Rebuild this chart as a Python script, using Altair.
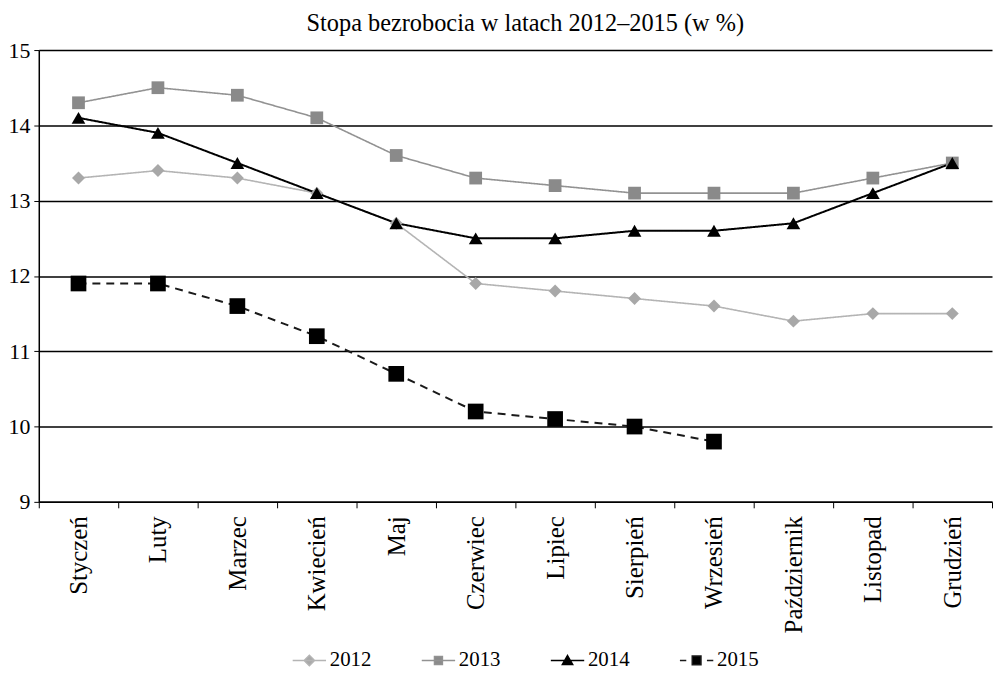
import altair as alt
import pandas as pd

months = ["Styczeń", "Luty", "Marzec", "Kwiecień", "Maj", "Czerwiec", "Lipiec",
          "Sierpień", "Wrzesień", "Październik", "Listopad", "Grudzień"]
years = ["2012", "2013", "2014", "2015"]
v2012 = [13.3, 13.4, 13.3, 13.1, 12.7, 11.9, 11.8, 11.7, 11.6, 11.4, 11.5, 11.5]
v2013 = [14.3, 14.5, 14.4, 14.1, 13.6, 13.3, 13.2, 13.1, 13.1, 13.1, 13.3, 13.5]
v2014 = [14.1, 13.9, 13.5, 13.1, 12.7, 12.5, 12.5, 12.6, 12.6, 12.7, 13.1, 13.5]
v2015 = [11.9, 11.9, 11.6, 11.2, 10.7, 10.2, 10.1, 10.0, 9.8]
y_ticks = [9, 10, 11, 12, 13, 14, 15]

series = {"2012": v2012, "2013": v2013, "2014": v2014, "2015": v2015}
rows = []
for yr, vals in series.items():
    for m, v in zip(months, vals):
        rows.append({"month": m, "year": yr, "value": v})
df = pd.DataFrame(rows)

FONT = "Liberation Serif"
line_colors = {"2012": "#b4b4b4", "2013": "#929292", "2014": "#000000", "2015": "#1a1a1a"}
marker_colors = {"2012": "#a8a8a8", "2013": "#8a8a8a", "2014": "#000000", "2015": "#000000"}
line_widths = {"2012": 1.6, "2013": 1.6, "2014": 2.0, "2015": 2.0}
dashes = {"2012": [1, 0], "2013": [1, 0], "2014": [1, 0], "2015": [8, 6]}
shapes = {"2012": "diamond", "2013": "square", "2014": "triangle-up", "2015": "square"}
sizes = {"2012": 170, "2013": 165, "2014": 190, "2015": 250}

legend_paths = [
    "M-4.2,0H4.2M0,-1.3L1.3,0L0,1.3L-1.3,0Z",
    "M-4.2,0H4.2M-1,-1H1V1H-1Z",
    "M-4.2,0H4.2M0,-1.25L1.3,1H-1.3Z",
    "M-4.2,0H-2.6M2.6,0H4.2M-1.1,-1.1H1.1V1.1H-1.1Z",
]

x_enc = alt.X("month:N", sort=months,
              scale=alt.Scale(type="band", paddingInner=0, paddingOuter=0),
              bandPosition=0.5,
              axis=alt.Axis(title=None, labelAngle=270, tickBand="extent",
                            labelFont=FONT, labelFontSize=25, labelColor="#000",
                            domainColor="#000", domainWidth=1.5, tickColor="#000",
                            tickSize=6, labelPadding=8, grid=False))
y_enc = alt.Y("value:Q", scale=alt.Scale(domain=[9, 15], nice=False, zero=False),
              axis=alt.Axis(title=None, values=y_ticks, grid=True, gridColor="#000",
                            gridWidth=1.5, labelFont=FONT, labelFontSize=22,
                            labelColor="#000", domainColor="#000", domainWidth=1.5,
                            tickColor="#000", tickSize=5, labelPadding=4))

base = alt.Chart(df)
layers = []
for yr in years:
    layers.append(
        base.transform_filter(alt.datum.year == yr).mark_line(
            color=line_colors[yr], strokeWidth=line_widths[yr], strokeDash=dashes[yr]
        ).encode(x=x_enc, y=y_enc)
    )
for yr in years:
    layers.append(
        base.transform_filter(alt.datum.year == yr).mark_point(
            shape=shapes[yr], filled=True, size=sizes[yr], color=marker_colors[yr], opacity=1
        ).encode(x=x_enc, y=y_enc)
    )

leg = alt.Legend(title=None, orient="none", direction="horizontal",
                 legendX=262, legendY=604,
                 labelFont=FONT, labelFontSize=21, labelColor="#000",
                 symbolSize=64, symbolStrokeWidth=1.5, symbolOpacity=1,
                 labelOffset=10, columnPadding=47)
legend_layer = base.mark_point(filled=True, opacity=0).encode(
    x=x_enc, y=y_enc,
    fill=alt.Fill("year:N", scale=alt.Scale(domain=years, range=[marker_colors[y] for y in years]), legend=leg),
    stroke=alt.Stroke("year:N", scale=alt.Scale(domain=years, range=[line_colors[y] for y in years]), legend=leg),
    shape=alt.Shape("year:N", scale=alt.Scale(domain=years, range=legend_paths), legend=leg),
)
layers.append(legend_layer)

chart = alt.layer(*layers).properties(
    width=960, height=455,
    padding={"left": 0, "right": 0, "top": 0, "bottom": 0},
    title=alt.TitleParams("Stopa bezrobocia  w latach 2012–2015 (w %)", font=FONT,
                          fontSize=24.5, fontWeight="normal", color="#000", offset=3, dx=10),
).configure(font=FONT).configure_view(strokeWidth=0).configure_legend(
    labelFont=FONT, labelFontSize=21, labelColor="#000"
)

chart.save("out.html", embed_options={"renderer": "svg", "actions": False})
